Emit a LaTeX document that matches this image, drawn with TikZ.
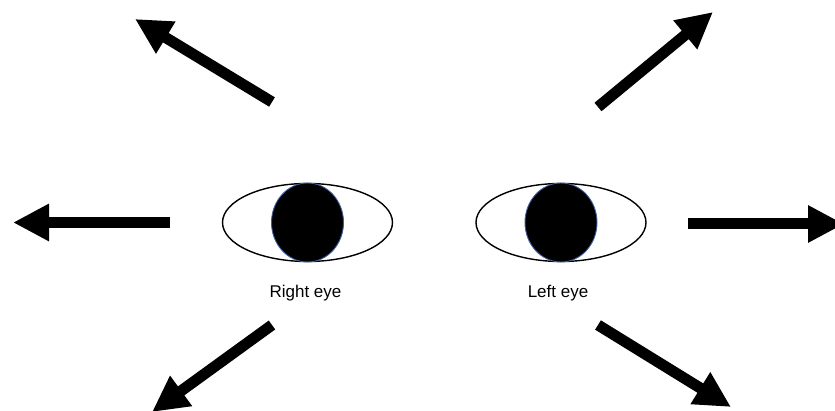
\documentclass[tikz,border=0pt]{standalone}
\usepackage{fontspec}
\setmainfont{Liberation Sans}
\usetikzlibrary{arrows.meta,shapes.geometric}
\definecolor{pupilrim}{HTML}{3F5F9F}
\tikzset{
  eyeball/.style={ellipse,draw=black,line width=1.4pt,minimum width=170pt,minimum height=78pt,inner sep=0pt},
  pupil/.style={ellipse,draw=pupilrim,fill=black,line width=0.9pt,minimum width=72pt,minimum height=79pt,inner sep=0pt},
  eyelabel/.style={font=\fontsize{17}{20}\selectfont,anchor=base,inner sep=0pt},
  bigarrow/.style={line width=11pt,-{Triangle[length=36pt,width=35pt]}}
}
\begin{document}
\begin{tikzpicture}[x=1pt,y=-1pt]
\useasboundingbox (0,0) rectangle (835,411);
\clip (0,0) rectangle (835,411);
% eyes
\node[eyeball] (reye) at (307.5,222.5) {};
\node[pupil] (rpupil) at (307.5,222.5) {};
\node[eyeball] (leye) at (561,222.5) {};
\node[pupil] (lpupil) at (561,222.5) {};
\node[eyelabel] (rlabel) at (305.5,298) {Right eye};
\node[eyelabel] (llabel) at (558,298) {Left eye};
% arrow end points
\coordinate (ult) at (272,102);
\coordinate (ulh) at (135,19);
\coordinate (urt) at (598,107);
\coordinate (urh) at (713,12);
\coordinate (lt) at (170,222.5);
\coordinate (lh) at (13,222.5);
\coordinate (rt) at (688,224);
\coordinate (rh) at (844,224);
\coordinate (llt) at (272,325);
\coordinate (llh) at (152,412);
\coordinate (lrt) at (598,325);
\coordinate (lrh) at (731,407);
% arrows
\draw[bigarrow] (ult) -- (ulh);
\draw[bigarrow] (urt) -- (urh);
\draw[bigarrow] (lt) -- (lh);
\draw[bigarrow] (rt) -- (rh);
\draw[bigarrow] (llt) -- (llh);
\draw[bigarrow] (lrt) -- (lrh);
\end{tikzpicture}
\end{document}
